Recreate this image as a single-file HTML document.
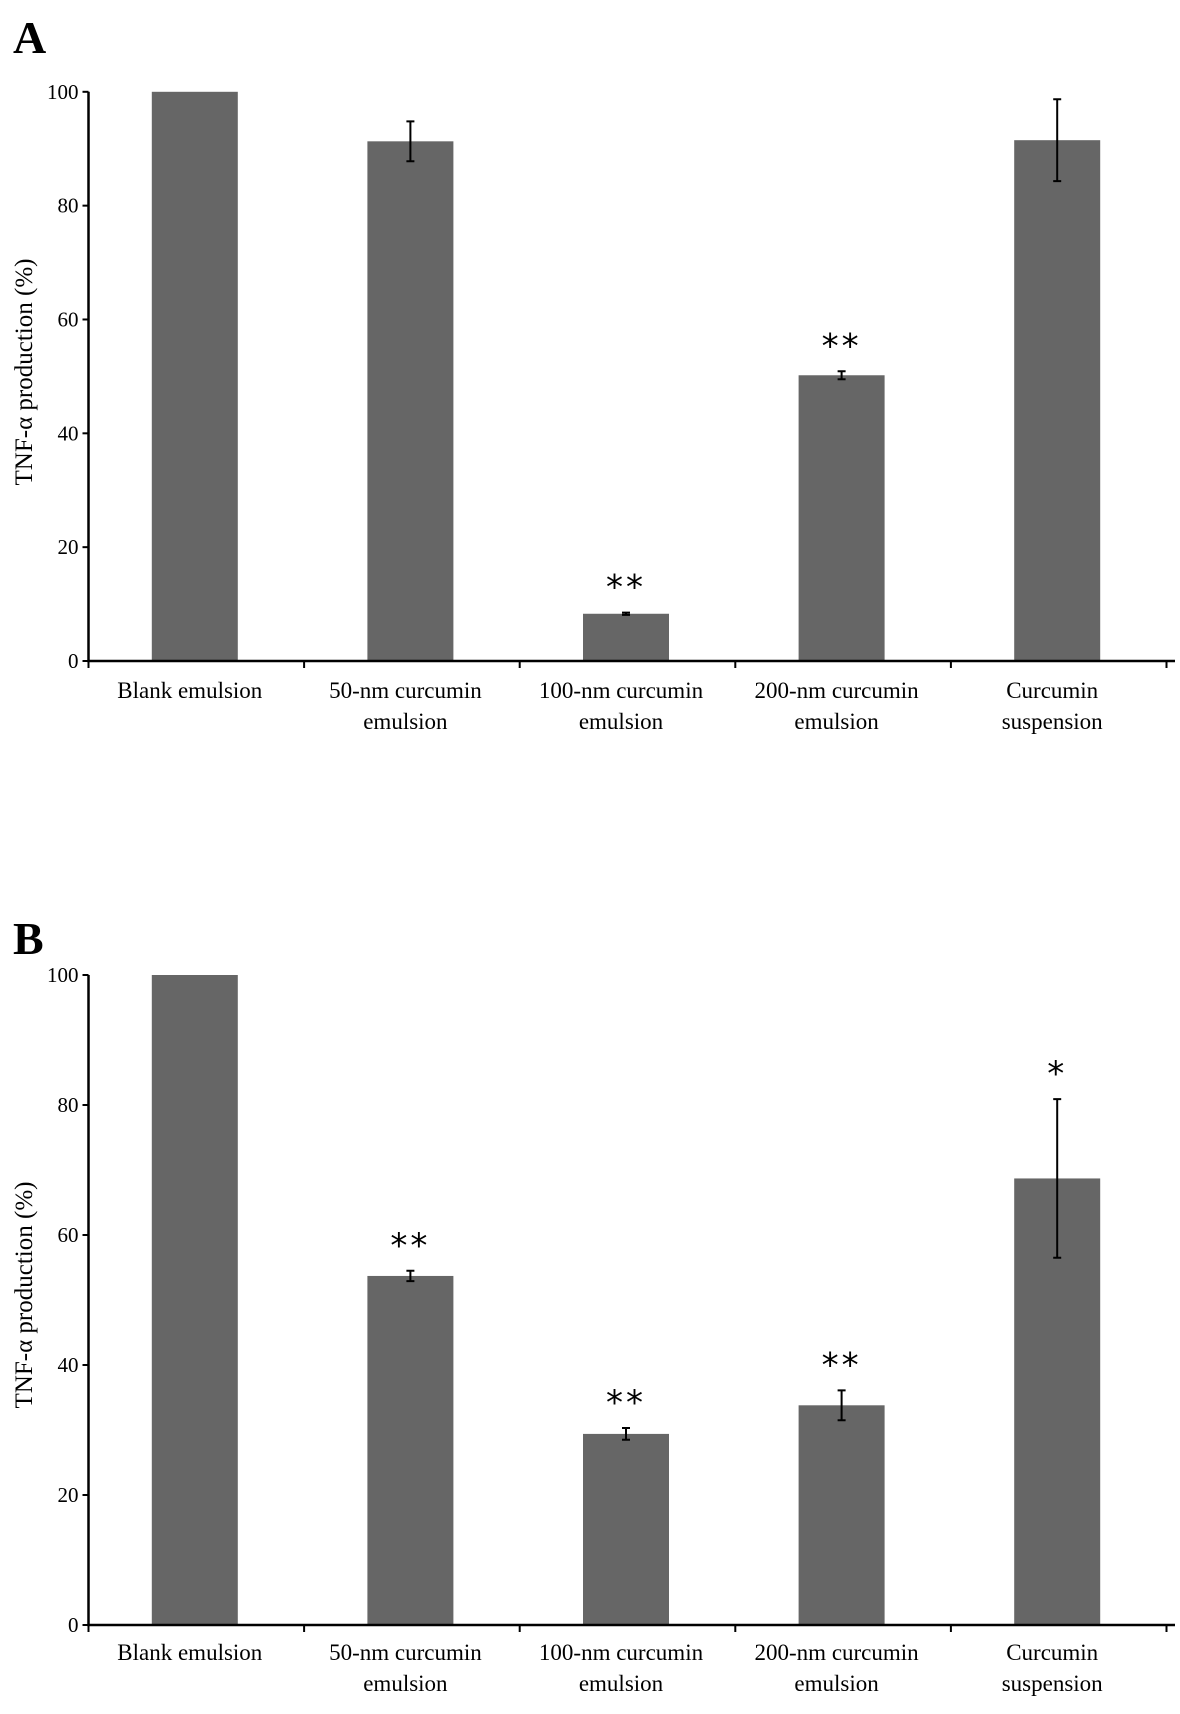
<!DOCTYPE html>
<html><head><meta charset="utf-8"><style>
html,body{margin:0;padding:0;background:#fff;}
svg{display:block;font-family:"Liberation Serif",serif;}
</style></head><body>
<svg id="chart" width="1180" height="1714" viewBox="0 0 1180 1714" xmlns="http://www.w3.org/2000/svg"></svg>
<script>
const categories = [["Blank emulsion"],["50-nm curcumin","emulsion"],["100-nm curcumin","emulsion"],["200-nm curcumin","emulsion"],["Curcumin","suspension"]];
const valuesA = [100, 91.3, 8.3, 50.2, 91.5];
const errorsA = [0, 3.5, 0.2, 0.7, 7.2];
const starsA = ["", "", "**", "**", ""];
const valuesB = [100, 53.7, 29.4, 33.8, 68.7];
const errorsB = [0, 0.8, 0.9, 2.3, 12.2];
const starsB = ["", "**", "**", "**", "*"];
const yTicks = [0, 20, 40, 60, 80, 100];

const NS = "http://www.w3.org/2000/svg";
const svg = document.getElementById("chart");
function mk(tag, attrs, parent){const e=document.createElementNS(NS,tag);for(const k in attrs)e.setAttribute(k,attrs[k]);(parent||svg).appendChild(e);return e;}

function panel(letter, vals, errs, stars, y100, y0, labelBase, catY, titleY){
  const g = mk("g",{});
  
  
  const x0 = 88.5, x1 = 1175;
  const cw = 215.6;
  const y = v => y0 - (y0 - y100) * v / 100;
  const xc = i => x0 + cw * (i + 0.5) - 1.5;
  const lab = mk("text",{x:13,y:labelBase,"font-size":46,"font-weight":"bold"},g);
  lab.textContent = letter;
  
  
  vals.forEach((v,i)=>{
    const r = mk("rect",{x:xc(i)-43,y:y(v),width:86,height:y0-y(v),fill:"#666666"},g);
    
    
    if(errs[i]>0){
      const e = mk("path",{d:`M${xc(i)} ${y(v+errs[i])}V${y(v-errs[i])}M${xc(i)-4} ${y(v+errs[i])}H${xc(i)+4}M${xc(i)-4} ${y(v-errs[i])}H${xc(i)+4}`,stroke:"#000","stroke-width":2,fill:"none"},g);
      
      
    }
    if(stars[i]){
      const s = mk("text",{x:xc(i),y:y(v+errs[i])-14,"font-size":34,"text-anchor":"middle","letter-spacing":"3","font-family":"DejaVu Sans, sans-serif"},g);
      s.textContent = stars[i];
      
      
    }
    categories[i].forEach((line,j)=>{
      const t = mk("text",{x:xc(i)-5,y:catY+j*31,"font-size":23,"text-anchor":"middle"},g);
      t.textContent = line;
      
      
    });
  });
  const ax = mk("path",{d:`M${x0} ${y100}V${y0}H${x1}`,stroke:"#000","stroke-width":2.5,fill:"none"},g);
  
  
  for(let i=0;i<=vals.length;i++){
    const t = mk("line",{x1:x0+cw*i,x2:x0+cw*i,y1:y0,y2:y0+7,stroke:"#000","stroke-width":2},g);
    
    
  }
  yTicks.forEach(v=>{
    const t = mk("line",{x1:x0-6,x2:x0,y1:y(v),y2:y(v),stroke:"#000","stroke-width":2},g);
    
    
    const l = mk("text",{x:x0-10,y:y(v)+7,"font-size":21,"text-anchor":"end"},g);
    l.textContent = v;
    
    
  });
  const tt = mk("text",{x:0,y:0,"font-size":25,"text-anchor":"middle",transform:`translate(32 ${titleY}) rotate(-90)`},g);
  tt.textContent = "TNF-α production (%)";
  
  
}
panel("A", valuesA, errorsA, starsA, 91.8, 661, 53, 698, 372);
panel("B", valuesB, errorsB, starsB, 975, 1625, 954, 1660, 1295);
</script>
</body></html>
